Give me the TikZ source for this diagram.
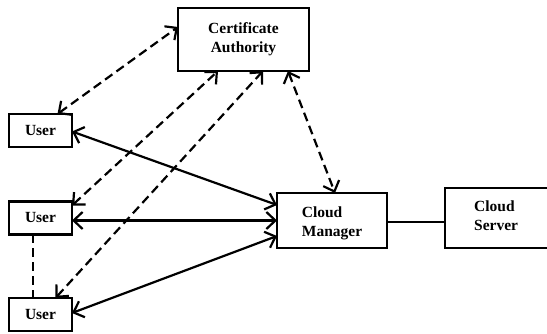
\documentclass[tikz,border=0pt]{standalone}
\usepackage{fontspec}
\setmainfont{Liberation Serif}
\usetikzlibrary{arrows.meta}
\begin{document}
\begin{tikzpicture}[x=1pt,y=-1pt,
  box/.style={draw,line width=2.4pt,rectangle,inner sep=0pt,outer sep=0pt,
    font=\bfseries\fontsize{15.5}{19}\selectfont,align=center},
  txt/.style={inner sep=0pt,font=\bfseries\fontsize{15.5}{19}\selectfont,align=left},
  conn/.style={line width=2.2pt,{Straight Barb[length=9pt,width=17pt]}-{Straight Barb[length=9pt,width=17pt]}},
  dconn/.style={conn,dash pattern=on 9pt off 5pt},
  plain/.style={line width=2.2pt}]
\fill[white] (0,0) rectangle (547,334);
\clip (0,0) rectangle (547,334);
\node[box,minimum width=131pt,minimum height=63pt] (CA) at (243.5,39.5) {Certificate\\Authority};
\node[box,minimum width=63pt,minimum height=33pt] (U1) at (40.5,130.5) {User};
\node[box,minimum width=63pt,minimum height=33pt] (U2) at (40.5,218) {User};
\node[box,minimum width=63pt,minimum height=33pt] (U3) at (40.5,314.5) {User};
\node[box,minimum width=110pt,minimum height=55pt] (CM) at (332,220.5) {};
\node[txt,anchor=center] (CMt) at (332,223.5) {Cloud\\Manager};
\node[box,minimum width=115pt,minimum height=60pt] (CS) at (502.5,218) {};
\node[txt,anchor=west] (CSt) at (474,216) {Cloud\\Server};
% dashed arrows
\draw[dconn] ([xshift=17pt]U1.north) -- ([yshift=-19pt]CA.north west);
\draw[dconn] ([yshift=-4pt]U2.north east) -- ([xshift=40pt]CA.south west);
\draw[dconn] ([xshift=15pt]U3.north) -- ([xshift=85pt]CA.south west);
\draw[dconn] ([xshift=110pt]CA.south west) -- ([xshift=3pt]CM.north);
% solid arrows
\draw[conn] ([yshift=-1pt]U1.east) -- ([yshift=15.5pt]CM.west);
\draw[conn] ([yshift=-2.5pt]U2.east) -- ([yshift=-2.5pt]U2.east -| CM.west);
\draw[conn] ([yshift=1.5pt]U3.east) -- ([yshift=-15.5pt]CM.west);
% plain lines
\draw[plain] ([yshift=-1.5pt]CM.east) -- ([yshift=-1.5pt]CM.east -| CS.west);
\draw[plain,dash pattern=on 9pt off 5pt] ([xshift=-7.5pt]U2.south) -- ([xshift=-7.5pt]U3.north);
\end{tikzpicture}
\end{document}
